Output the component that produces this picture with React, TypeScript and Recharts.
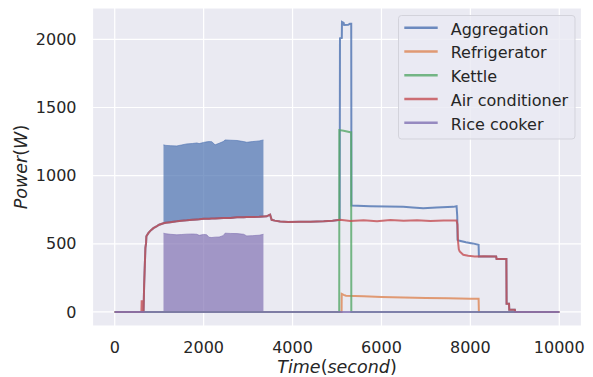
import React from "react";
import { ComposedChart, Line, Area, XAxis, YAxis, CartesianGrid, Legend } from "recharts";

const FONT = "DejaVu Sans";
const TEXT = "#262626";
const BG = "#EAEAF2";

const xTicks = [0, 2000, 4000, 6000, 8000, 10000];
const yTicks = [0, 500, 1000, 1500, 2000];

const seriesNames = ["Aggregation", "Refrigerator", "Kettle", "Air conditioner", "Rice cooker"];
const seriesColors = ["#4C72B0", "#DD8452", "#55A868", "#C44E52", "#8172B3"];

// dense on/off part of the rice cooker cycle (drawn as min/max envelope)
const bandTimes = [1097, 1150, 1250, 1397, 1500, 1622, 1750, 1847, 1900, 2000, 2070, 2120, 2183, 2258, 2350, 2440, 2483, 2600, 2750, 2900, 2970, 3100, 3250, 3345];
const aggHigh = [1226, 1222, 1220, 1218, 1225, 1233, 1236, 1240, 1235, 1244, 1248, 1250, 1249, 1226, 1238, 1250, 1262, 1260, 1258, 1250, 1245, 1250, 1255, 1262];
const aggLow = [651, 655, 659, 665, 670, 672, 676, 679, 680, 683, 684, 684, 685, 686, 688, 690, 690, 690, 694, 695, 696, 697, 698, 700];
const riceHigh = [578, 574, 570, 566, 568, 571, 572, 570, 562, 569, 566, 548, 546, 549, 550, 560, 578, 576, 575, 570, 558, 560, 563, 570];

const aggTimes = [0, 648, 662, 690, 705, 712, 730, 760, 800, 870, 950, 1000,
  1097, 1150, 1250, 1397, 1500, 1622, 1750, 1847, 1900, 2000, 2070, 2120, 2183, 2258, 2350, 2440, 2483, 2600, 2750, 2900, 2970, 3100, 3250, 3345,
  3420, 3470, 3495, 3530, 3600, 3720, 3900, 4170, 4400, 4700, 4900, 5060, 5067, 5108, 5112, 5150, 5160, 5250, 5290, 5320, 5325,
  5742, 6117, 6490, 6700, 6940, 7240, 7614, 7690, 7705, 7712, 7760, 7900, 8050, 8185, 8192, 8580, 8590, 8810, 8815, 8870, 8875, 9000, 9010, 10000];
const aggValues = [0, 0, 200, 470, 505, 555, 565, 580, 595, 615, 630, 640,
  651, 655, 659, 665, 670, 672, 676, 679, 680, 683, 684, 684, 685, 686, 688, 690, 690, 690, 694, 695, 696, 697, 698, 700,
  702, 710, 714, 676, 670, 663, 660, 661, 662, 665, 670, 676, 2007, 2010, 2127, 2120, 2105, 2107, 2114, 2114, 781,
  776, 773, 771, 766, 760, 766, 771, 776, 700, 529, 522, 512, 503, 493, 407, 407, 388, 388, 61, 61, 17, 17, 0, 0];

const fridgeTimes = [0, 5103, 5106, 5150, 5200, 5600, 6000, 6500, 7000, 7500, 8000, 8185, 8192, 10000];
const fridgeValues = [0, 0, 132, 125, 119, 115, 110, 106, 103, 100, 97, 97, 0, 0];

const kettleTimes = [0, 5050, 5053, 5150, 5300, 5318, 5322, 10000];
const kettleValues = [0, 0, 1334, 1330, 1318, 1318, 0, 0];

const acTimes = [0, 600, 606, 612, 618, 648, 662, 690, 705, 712, 730, 760, 800, 870, 950, 1000,
  1097, 1150, 1250, 1397, 1500, 1622, 1750, 1847, 1900, 2000, 2070, 2120, 2183, 2258, 2350, 2440, 2483, 2600, 2750, 2900, 2970, 3100, 3250, 3345,
  3420, 3470, 3495, 3530, 3600, 3720, 3900, 4170, 4400, 4700, 4900, 5067, 5300, 5600, 5900, 6200, 6500, 6800, 7100, 7400, 7690,
  7710, 7722, 7740, 7760, 7840, 7950, 8100, 8300, 8580, 8590, 8810, 8815, 8870, 8875, 9000, 9010, 10000];
const acValues = [0, 0, 78, 78, 0, 0, 200, 470, 505, 555, 565, 580, 595, 615, 630, 640,
  651, 655, 659, 665, 670, 672, 676, 679, 680, 683, 684, 684, 685, 686, 688, 690, 690, 690, 694, 695, 696, 697, 698, 700,
  702, 710, 714, 676, 670, 663, 660, 661, 662, 665, 670, 676, 668, 672, 666, 674, 669, 672, 668, 671, 671,
  640, 520, 460, 444, 420, 412, 407, 409, 407, 388, 388, 61, 61, 17, 17, 0, 0];

const riceTimes = [0, 10000];
const riceValues = [0, 0];

const toPoints = (ts: number[], vs: number[]) => ts.map((t, i) => ({ t, v: vs[i] }));

const aggBand = bandTimes.map((t, i) => ({ t, range: [aggLow[i], aggHigh[i]] }));
const riceBand = bandTimes.map((t, i) => ({ t, range: [0, riceHigh[i]] }));

const lineData = [
  toPoints(aggTimes, aggValues),
  toPoints(fridgeTimes, fridgeValues),
  toPoints(kettleTimes, kettleValues),
  toPoints(acTimes, acValues),
  toPoints(riceTimes, riceValues),
];

const renderLegend = () => (
  <svg width={178} height={125} style={{ display: "block" }}>
    <rect x={0.5} y={0.5} width={176.5} height={123.5} rx={3} fill="rgba(234,234,242,0.8)" stroke="#D3D3DB" />
    {seriesNames.map((name, i) => (
      <g key={name}>
        <line x1={6.3} x2={39.7} y1={12.8 + 23.75 * i} y2={12.8 + 23.75 * i}
          stroke={seriesColors[i]} strokeWidth={2.5} strokeOpacity={0.8} />
        <text x={52.7} y={19.5 + 23.75 * i} fontFamily={FONT} fontSize={16} fill={TEXT}>{name}</text>
      </g>
    ))}
  </svg>
);

const XLabel = (props: any) => {
  const vb = props.viewBox;
  return (
    <text x={vb.x + vb.width / 2} y={vb.y + 47} textAnchor="middle" fontFamily={FONT} fontSize={17.5} fill={TEXT}>
      <tspan fontStyle="italic">Time</tspan><tspan>(</tspan><tspan fontStyle="italic">second</tspan><tspan>)</tspan>
    </text>
  );
};

const YLabel = (props: any) => {
  const vb = props.viewBox;
  const cy = vb.y + vb.height / 2;
  return (
    <text x={26.5} y={cy} transform={`rotate(-90, 26.5, ${cy})`} textAnchor="middle" fontFamily={FONT} fontSize={17.5} fill={TEXT}>
      <tspan fontStyle="italic">Power</tspan><tspan>(</tspan><tspan fontStyle="italic">W</tspan><tspan>)</tspan>
    </text>
  );
};

export default function App() {
  return (
    <div style={{ position: "absolute", left: 0, top: 0 }}>
      <ComposedChart width={593} height={377} margin={{ top: 8, right: 11.5, bottom: 0, left: 0 }}>
        <CartesianGrid fill={BG} fillOpacity={1} stroke="#FFFFFF" strokeWidth={1.2} />
        <XAxis type="number" dataKey="t" domain={[-500, 10500]} ticks={xTicks} allowDataOverflow
          height={51} tickSize={0} tickMargin={16} axisLine={false} tickLine={false}
          tick={{ fontFamily: FONT, fontSize: 16, fill: TEXT }} label={<XLabel />} />
        <YAxis type="number" domain={[-103, 2230]} ticks={yTicks} allowDataOverflow
          width={92.5} tickSize={0} tickMargin={16} axisLine={false} tickLine={false}
          tick={{ fontFamily: FONT, fontSize: 16, fill: TEXT }} label={<YLabel />} />
        <Area data={aggBand} dataKey="range" type="linear" isAnimationActive={false} legendType="none"
          fill={seriesColors[0]} fillOpacity={0.7} stroke={seriesColors[0]} strokeOpacity={0.6} strokeWidth={1} />
        {seriesNames.slice(0, 4).map((name, i) => (
          <Line key={name} data={lineData[i]} dataKey="v" name={name} type="linear" stroke={seriesColors[i]}
            strokeWidth={2} strokeOpacity={0.8} dot={false} activeDot={false} isAnimationActive={false} />
        ))}
        <Area data={riceBand} dataKey="range" type="linear" isAnimationActive={false} legendType="none"
          fill={seriesColors[4]} fillOpacity={0.7} stroke={seriesColors[4]} strokeOpacity={0.6} strokeWidth={1} />
        <Line data={lineData[4]} dataKey="v" name={seriesNames[4]} type="linear" stroke={seriesColors[4]}
          strokeWidth={2} strokeOpacity={0.8} dot={false} activeDot={false} isAnimationActive={false} />
        <Legend layout="vertical" align="center" verticalAlign="middle" content={renderLegend}
          wrapperStyle={{ left: 398, top: 15, width: 178, height: 125 }} />
      </ComposedChart>
    </div>
  );
}
